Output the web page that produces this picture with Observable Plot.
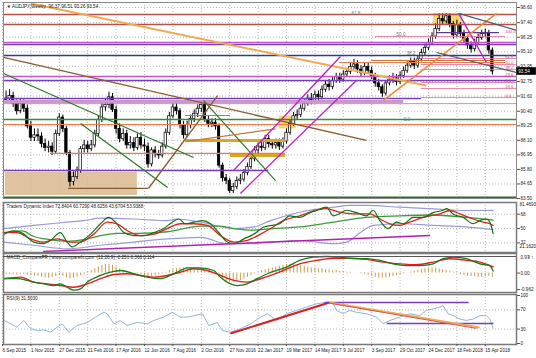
<!DOCTYPE html>
<html><head><meta charset="utf-8">
<script src="https://cdn.jsdelivr.net/npm/d3@7"></script>
<script src="https://cdn.jsdelivr.net/npm/@observablehq/plot@0.6"></script>
<style>
body{margin:0;background:#fff;}
#chart{position:relative;width:536px;height:358px;overflow:hidden;font-family:"Liberation Sans",Arial,sans-serif;background:#fff;}
#chart svg{position:absolute;left:0;}
</style></head><body><div id="chart"></div>
<script>
// ---------- DATA ----------
const title = "\u25BC AUDJPY,Weekly  96.37 96.51 93.26 93.54";
const tdiTitle = "Traders Dynamic Index 72.8404 60.7290 48.6256 43.6704 53.9388";
const macdTitle = "MACD_ComparePR | www.comparefx.com  (12,26,9) -0.251 0.366 0.114";
const rsiTitle = "RSI(9) 31.5030";
const tickLabels = ["6 Sep 2015","1 Nov 2015","27 Dec 2015","21 Feb 2016","17 Apr 2016","12 Jun 2016","7 Aug 2016","2 Oct 2016","27 Nov 2016","22 Jan 2017","19 Mar 2017","14 May 2017","9 Jul 2017","3 Sep 2017","29 Oct 2017","24 Dec 2017","18 Feb 2018","15 Apr 2018"];
const priceTicks = [98.60,97.40,96.25,95.10,93.95,92.75,91.60,90.40,89.25,88.10,86.95,85.80,84.65,83.50];
const tdiTicks = [68,50,32];
const tdiMax = 81.4693, tdiMin = 21.1620;
const macdTicks = [0,-0.962];
const macdMax = 0.97;
const rsiTicks = [100,70,30,0];

// weekly candles, week index 0 = 6 Sep 2015
const open = [91.0, 91.3,91.4,91.6,91.0,90.4,91.0,90.6,89.2,88.3,88.5, 88.4,87.8,87.5,87.6,87.2,88.6,89.9,89.0,87.1,84.8, 85.2,85.7,87.4,87.7,87.4,87.7,88.6,89.7,90.7,90.9, 91.5,90.5,89.0,88.2,88.6,87.7,87.9,87.5,88.3,87.7, 87.6,86.2,87.3,87.0,86.9,87.6,88.7,90.0,90.7,90.4, 89.3,88.5,89.3,89.8,90.2,90.6,90.9,89.7,89.4,89.5, 89.2,86.1,85.1,84.9,84.1,84.4,84.9,85.0,85.5,86.0, 86.6,87.3,87.6,87.5,88.2,87.8,87.7,87.9,87.6,88.0, 88.7,89.4,90.0,90.1,90.6,91.0,91.4,91.2,91.7,91.5, 92.1,92.5,92.3,92.8,93.1,92.9,93.3,93.5,93.9,94.1, 93.7,93.4,93.9,93.6,93.2,92.6,92.3,91.8,92.6,92.9, 93.0,92.7,93.2,93.6,94.0,94.3,94.0,94.5,95.0,95.4, 95.8,96.3,96.9,97.7,97.5,97.9,97.3,96.4,97.2,96.5, 96.1,95.6,95.3,95.8,96.2,96.5,96.6,95.2];
const high = [91.8, 92.0,92.1,91.9,91.3,91.4,91.3,90.9,89.6,89.0,89.0, 88.7,88.2,88.0,87.9,88.9,90.2,90.1,89.2,87.3,85.6, 86.0,87.6,88.1,88.0,88.1,88.9,90.0,91.0,91.4,91.9, 91.8,90.8,89.4,89.0,88.9,88.4,88.3,88.6,88.7,88.2, 87.9,87.5,87.6,87.3,87.9,89.0,90.3,91.0,91.2,90.6, 89.6,89.6,90.1,90.5,90.9,91.2,91.1,90.0,89.8,89.8, 89.4,86.3,85.4,85.1,84.7,85.2,85.4,85.8,86.3,86.9, 87.6,87.9,88.0,88.5,88.5,88.1,88.2,88.2,88.3,89.0, 89.7,90.3,90.5,90.9,91.3,91.7,91.8,92.0,92.0,92.4, 92.8,92.9,93.1,93.4,93.4,93.6,93.8,94.2,94.5,94.4, 94.0,94.2,94.2,93.9,93.4,92.9,92.5,92.8,93.2,93.4, 93.3,93.5,93.9,94.3,94.6,94.6,94.8,95.3,95.7,96.1, 96.6,97.3,98.1,98.1,98.1,98.1,97.5,97.6,97.4,96.8, 96.4,95.9,96.1,96.5,96.8,96.9,96.8,95.4];
const low = [90.8, 91.0,91.1,90.7,90.1,90.2,90.3,89.0,88.0,88.0,88.0, 87.5,87.2,87.1,86.9,87.0,88.4,88.7,86.9,84.4,84.5, 85.0,85.5,87.1,87.1,87.2,87.5,88.4,89.5,90.4,90.6, 90.3,88.6,87.9,88.0,87.4,87.4,87.2,87.3,87.4,87.2, 85.9,86.0,86.7,86.6,86.7,87.4,88.5,89.8,90.1,89.0, 88.2,88.3,89.0,89.5,89.9,90.3,89.5,89.1,89.1,88.9, 85.9,84.8,84.6,83.9,83.9,84.2,84.6,84.8,85.3,85.8, 86.4,87.0,87.2,87.3,87.5,87.4,87.4,87.3,87.4,87.8, 88.5,89.2,89.7,89.9,90.4,90.8,90.9,91.0,91.2,91.3, 91.9,92.0,92.1,92.6,92.6,92.7,93.1,93.3,93.7,93.4, 93.1,93.2,93.3,92.9,92.3,92.0,91.5,91.6,92.4,92.6, 92.4,92.5,93.0,93.4,93.8,93.7,93.8,94.3,94.8,95.2, 95.6,96.1,96.7,97.2,97.3,97.0,96.1,96.2,96.2,95.8, 95.3,95.0,95.1,95.6,96.0,96.2,94.9,93.26];
const close = [91.3, 91.4,91.6,91.0,90.4,91.0,90.6,89.2,88.3,88.5,88.4, 87.8,87.5,87.6,87.2,88.6,89.9,89.0,87.1,84.8,85.2, 85.7,87.4,87.7,87.4,87.7,88.6,89.7,90.7,90.9,91.5, 90.5,89.0,88.2,88.6,87.7,87.9,87.5,88.3,87.7,87.6, 86.2,87.3,87.0,86.9,87.6,88.7,90.0,90.7,90.4,89.3, 88.5,89.3,89.8,90.2,90.6,90.9,89.7,89.4,89.5,89.2, 86.1,85.1,84.9,84.1,84.4,84.9,85.0,85.5,86.0,86.6, 87.3,87.6,87.5,88.2,87.8,87.7,87.9,87.6,88.0,88.7, 89.4,90.0,90.1,90.6,91.0,91.4,91.2,91.7,91.5,92.1, 92.5,92.3,92.8,93.1,92.9,93.3,93.5,93.9,94.1,93.7, 93.4,93.9,93.6,93.2,92.6,92.3,91.8,92.6,92.9,93.0, 92.7,93.2,93.6,94.0,94.3,94.0,94.5,95.0,95.4,95.8, 96.3,96.9,97.7,97.5,97.9,97.3,96.4,97.2,96.5,96.1, 95.6,95.3,95.8,96.2,96.5,96.6,95.2,93.54];

// horizontal objects on the price chart: price level, week range, kind
const hLines = [
 {p:98.05,w1:-1,w2:146,k:"brick"},{p:97.26,w1:-1,w2:146,k:"brick"},
 {p:95.83,w1:-1,w2:146,k:"orchid"},{p:95.68,w1:-1,w2:146,k:"violet"},
 {p:94.81,w1:-1,w2:146,k:"navy"},
 {p:93.15,w1:-1,w2:146,k:"orchid"},{p:92.83,w1:-1,w2:146,k:"violet"},
 {p:91.41,w1:-1,w2:118,k:"violet"},{p:91.17,w1:-1,w2:113,k:"mauve"},{p:91.0,w1:-1,w2:146,k:"pinkthin"},
 {p:89.75,w1:-1,w2:146,k:"green"},{p:89.35,w1:-1,w2:146,k:"salmon"},
 {p:87.06,w1:13.5,w2:79.7,k:"salmon"},{p:85.71,w1:-1,w2:75,k:"violet"},
 {p:84.3,w1:18.6,w2:41.1,k:"brown"},{p:83.58,w1:-1,w2:146,k:"darkgreen"},
 {p:90.06,w1:51.5,w2:64.2,k:"rust"},{p:88.09,w1:51.5,w2:79.7,k:"gold"},{p:86.9,w1:64.2,w2:79.7,k:"gold"},
 {p:96.62,w1:122.3,w2:140,k:"plum"},{p:96.31,w1:105,w2:141.7,k:"pinkthin"},
 {p:94.41,w1:104,w2:141.7,k:"rust"},{p:94.25,w1:95,w2:141.7,k:"salmon"},
 {p:94.57,w1:118,w2:146,k:"pinkthin"},{p:94.09,w1:118,w2:146,k:"pinkthin"},{p:93.70,w1:118,w2:146,k:"pinkthin"},
 {p:92.67,w1:118,w2:146,k:"pinkthin"},{p:92.20,w1:118,w2:146,k:"pinkthin"},{p:91.49,w1:118,w2:146,k:"pinkthin"}
];
// trend lines on the price chart
const segs = [
 {w1:7.9,p1:98.92,w2:119.4,p2:92.43,k:"tan"},
 {w1:0.3,p1:94.65,w2:102.5,p2:88.09,k:"brown"},
 {w1:0.3,p1:93.38,w2:53.8,p2:86.74,k:"dgreen"},
 {w1:22,p1:89.43,w2:46.5,p2:84.37,k:"dgreen"},
 {w1:56.6,p1:91.25,w2:76.9,p2:84.92,k:"dgreen"},
 {w1:41.1,p1:84.29,w2:60.6,p2:91.64,k:"brown"},
 {w1:51.5,p1:88.0,w2:76.9,p2:89.0,k:"rust"},
 {w1:65.1,p1:85.71,w2:95.2,p2:94.73,k:"magenta"},
 {w1:67,p1:83.9,w2:99.7,p2:92.83,k:"magenta"},
 {w1:107.3,p1:91.25,w2:139.2,p2:98.13,k:"orange"},
 {w1:128.5,p1:98.13,w2:136.3,p2:94.25,k:"magenta"},
 {w1:128.5,p1:98.13,w2:144.8,p2:96.79,k:"slate"},
 {w1:122.3,p1:95.04,w2:144.8,p2:93.46,k:"slate"}
];
const boxes = [
 {w1:0.8,w2:38,p1:83.74,p2:85.56,k:"tanbox"},
 {w1:121.4,w2:129.6,p1:97.18,p2:98.13,k:"yellow"},
 {w1:78,w2:82.8,p1:89.0,p2:90.0,k:"yellow"}
];
const fibLabels = [{w:98.3,p:97.85,t:"61.8"},{w:111,p:96.2,t:"50.0"},{w:113.8,p:94.7,t:"38.2"},{w:113,p:89.5,t:"0.0"}];
const pinkLabels = [{p:96.54,t:"100.0"},{p:94.57,t:"61.8"},{p:94.09,t:"50.0"},{p:93.70,t:"38.2"},{p:93.15,t:"23.6"},{p:92.67,t:"0.0"},{p:92.20,t:"23.6"},{p:91.49,t:"0.0"}];

// Traders Dynamic Index  [week, value]
const tdiRsi = [[0.4,43],[3.2,47],[6,43],[8.8,33],[11.6,31],[13.5,35],[16.3,45],[18.2,33],[19.6,27],[22,33],[24.8,43],[27.6,56],[29.9,64],[31.8,58],[34.2,45],[37,41],[39.8,41],[42.6,45],[45.4,50],[47.8,58],[49.7,62],[51.5,56],[53.9,58],[56.3,60],[58.6,56],[60.9,45],[63.3,33],[65.2,31],[68,37],[70.8,43],[73.6,52],[78.1,56],[80.9,66],[83.7,64],[86.6,70],[88.5,73],[91.3,77],[93.2,66],[94.6,68],[96.9,73],[99.7,70],[102.5,66],[104.4,73],[106.3,60],[108.6,50],[111,58],[112.9,56],[115.7,64],[118.5,64],[121.3,70],[124.1,73],[125.1,75],[127,68],[129.8,64],[132.6,56],[134.5,60],[136.3,62],[137.3,58],[138.2,43.7]];
const tdiSig = [[0.4,45],[4.1,45],[7.9,37],[11.6,33],[15.4,37],[19.2,33],[22,33],[25.7,43],[29.5,58],[32.3,56],[35.1,47.5],[38.9,41],[42.6,43],[46.4,50],[50.1,56],[53.9,56],[57.7,54],[61.4,41],[65.2,33],[68.9,35],[72.7,43],[75.5,50],[79.1,60],[83.7,66],[88.5,73],[91.3,75],[95,70.5],[98.8,68.5],[103.5,68.5],[106.3,62],[109.1,56],[111.9,54],[114.7,58],[118.5,64],[123.2,68.5],[126,72.7],[128.8,68.5],[132.6,62],[135.4,58],[137.3,56],[138.2,53.9]];
const tdiBase = [[0.4,45],[5.6,47],[8.8,40],[13.5,36],[18.2,34],[22.9,36],[27.6,41],[32.3,44],[38,44],[46.4,46],[55.8,53],[61,53],[65.2,50],[70,48],[75.5,49.7],[83.7,52],[93.2,58],[102.5,64],[111.9,66],[121.3,67],[130.7,64],[138.2,60.7]];
const tdiUp = [[0.4,50],[8.8,54],[18.2,58],[22.9,60],[27.6,63],[37,62],[46.4,60],[49.2,62],[55.8,58],[65.2,50],[70.8,52],[75.5,60],[83.7,70.5],[93.2,76.8],[97.9,79],[102.5,79],[111.9,76.8],[121.3,74.8],[130.7,72.7],[138.2,72.84]];
const tdiLow = [[0.4,33],[8.8,29],[18.2,24.5],[27.6,29],[37,33],[46.4,37],[55.8,39],[63.3,31],[70,31],[75.5,33],[83.7,35],[93.2,31],[97,33],[100.8,45],[104.4,54],[111.9,56],[121.3,54],[130.7,52],[138.2,48.6]];
const tdiTrend = [[11.6,21.3],[120.3,41.3]];

// MACD
const macdMain = [[0.4,-0.33],[4.1,-0.33],[7,-0.43],[8.8,-0.53],[11.6,-0.63],[14.5,-0.73],[16.3,-0.63],[18.2,-0.83],[20.1,-1.0],[22,-0.92],[23.9,-0.53],[27.6,-0.14],[30.4,0.05],[33.2,0.15],[37,-0.04],[40.8,-0.24],[44.5,-0.33],[47.3,-0.14],[50.1,0.15],[52,0.3],[55.8,0.3],[59.5,0.15],[61.4,-0.24],[64.2,-0.63],[66.1,-0.73],[68.9,-0.63],[71.7,-0.33],[74.6,-0.04],[80,0.35],[83.7,0.74],[87.5,0.93],[91.3,0.97],[95,0.93],[98.8,0.84],[102.5,0.85],[106.3,0.74],[110,0.54],[113.8,0.44],[117.5,0.44],[121.3,0.54],[124.1,0.84],[127,0.93],[130.7,0.84],[134.5,0.54],[137.3,0.44],[138.2,0.114]];
const macdSig = [[0.4,-0.33],[5.1,-0.24],[8.8,-0.53],[12.6,-0.63],[16.3,-0.73],[20.1,-0.83],[23.9,-0.63],[27.6,-0.33],[31.4,-0.08],[35.1,-0.04],[38.9,-0.14],[42.6,-0.24],[46.4,-0.14],[50.1,0.05],[53.9,0.25],[57.7,0.15],[61.4,-0.14],[65.2,-0.43],[68.9,-0.53],[72.7,-0.33],[75.5,-0.14],[79.1,0.15],[83.7,0.54],[88.5,0.74],[93.2,0.87],[97.8,0.87],[102.5,0.80],[107.2,0.64],[111.9,0.54],[116.6,0.49],[121.3,0.64],[126,0.84],[130.7,0.74],[134.5,0.64],[137.3,0.44],[138.2,0.366]];
const macdHist = [-0.05,-0.08,-0.1,-0.1,-0.12,-0.1,-0.08,-0.12,-0.15,-0.18,-0.2, -0.25,-0.28,-0.3,-0.25,-0.2,-0.15,-0.2,-0.3,-0.35,-0.3, -0.25,-0.15,-0.1,0.05,0.15,0.25,0.35,0.45,0.5,0.5, 0.45,0.35,0.25,0.15,0.1,0.05,0,-0.05,-0.1,-0.15, -0.2,-0.2,-0.15,-0.1,-0.05,0.05,0.15,0.2,0.25,0.3, 0.3,0.3,0.3,0.3,0.25,0.2,0.1,0.05,0,-0.1, -0.25,-0.4,-0.5,-0.55,-0.55,-0.5,-0.45,-0.35,-0.25,-0.15, -0.05,0.05,0.15,0.2,0.25,0.3,0.35,0.4,0.45,0.5, 0.5,0.5,0.45,0.45,0.4,0.35,0.3,0.3,0.25,0.25, 0.2,0.2,0.15,0.15,0.1,0.1,0.05,0.05,0,0, -0.05,-0.1,-0.15,-0.2,-0.25,-0.3,-0.3,-0.3,-0.25,-0.2, -0.15,-0.1,-0.05,0,0.05,0.1,0.15,0.2,0.25,0.3, 0.3,0.3,0.25,0.2,0.15,0.1,0.05,-0.05,-0.1,-0.15, -0.2,-0.2,-0.2,-0.25,-0.25,-0.2,-0.2,-0.251];

// RSI(9)
const rsi = [[0.4,48],[2.3,41],[4.1,34],[6,48],[7.9,31],[9.8,27],[11.6,28.5],[13.5,23.5],[15.4,34],[16.8,41],[18.7,23.5],[21,37.5],[23.9,44],[26.2,55],[28.5,65],[29.5,62],[31.4,41],[33.2,48],[35.1,37.5],[37.9,44],[40.8,41],[42.6,48],[45.4,55],[47.8,65],[50.1,55],[52,55],[53.9,58],[56.3,62],[58.1,37.5],[60.5,44],[61.9,27],[64.2,23.5],[67,30.6],[69.9,41],[72.7,55],[74.6,62],[77.2,48],[80,62],[82.8,69],[85.6,76],[88.5,82.6],[91.3,86],[93.2,82.6],[94.1,69],[96,62],[97.8,69],[99.7,65],[102.5,62],[105.4,55],[107.2,41],[109.1,48],[111.9,55],[114.7,62],[117.5,58],[119.4,69],[121.3,72],[123.2,76],[124.1,79],[125.5,62],[127,58],[128.8,51],[130.7,48],[132.6,51],[134.5,58],[136.3,58],[137.3,51],[138.2,31.5]];
const rsiSegs = [
 {w1:64.2,p1:20.8,w2:92.1,p2:85.4,k:"red"},
 {w1:90.7,p1:85.4,w2:131.3,p2:85.4,k:"violet"},
 {w1:108.2,p1:41.7,w2:138.3,p2:41.7,k:"violet"},
 {w1:92.1,p1:85.4,w2:134.4,p2:33.3,k:"tan"},
 {w1:92.1,p1:84,w2:133.5,p2:31.5,k:"redthin"}
];

// ---------- STYLE ----------
const style = {
 brick:{s:"#b5524a",w:1.4}, orchid:{s:"#c254c8",w:1.4}, violet:{s:"#7a3cc0",w:1.6}, navy:{s:"#2a3d8f",w:1.4},
 mauve:{s:"#c99ac9",w:3}, pinkthin:{s:"#e8769e",w:0.9}, green:{s:"#3a8a3a",w:1.5}, salmon:{s:"#ea7a50",w:1.2},
 brown:{s:"#8b5a2b",w:1.3}, darkgreen:{s:"#2f6b2f",w:2}, rust:{s:"#c8783a",w:1.2}, gold:{s:"#dba628",w:3},
 plum:{s:"#5a3a8a",w:1.3}, tan:{s:"#eeaa55",w:2}, dgreen:{s:"#2a7a2a",w:1.2}, magenta:{s:"#c020c0",w:1.3},
 orange:{s:"#f08a30",w:1.5}, slate:{s:"#4a5a6a",w:1.2}, red:{s:"#d42020",w:2}, redthin:{s:"#e05050",w:1},
 tanbox:{f:"#d9b88f"}, yellow:{f:"#f6cf55"}
};
const FONT = "Liberation Sans, Arial, sans-serif";
const FS = 4.6;
const XD = [0.2817, 144.79];
const tickWeeks = tickLabels.map((_, k) => k * 8);
const gridStyle = {stroke:"#9a9a9a", strokeOpacity:0.7, strokeDasharray:"1,2"};
const kinds = arr => [...new Set(arr.map(d => d.k))];
const axisOpts = {anchor:"right", tickSize:3, tickPadding:1, fontSize:FS, stroke:"#555"};

function panel(top, height, mt, mb, ydom, marks) {
  const svg = Plot.plot({
    width:536, height, marginLeft:3, marginRight:20, marginTop:mt, marginBottom:mb,
    x:{domain:XD, axis:null}, y:{domain:ydom, axis:null},
    style:{fontFamily:FONT, fontSize:FS + "px", background:"transparent", overflow:"visible", color:"#222"},
    marks
  });
  svg.style.top = top + "px";
  document.getElementById("chart").appendChild(svg);
}
const titleMark = t => Plot.text([t], {frameAnchor:"top-left", text:d => d, dx:3, dy:2, fontSize:FS, textAnchor:"start", lineAnchor:"top", fill:"#222"});

// ---------- MAIN PRICE PANEL ----------
const candles = close.map((c, i) => ({i, o:open[i], h:high[i], l:low[i], c}));
panel(0, 200, 2, 2, [83.5, 98.995], [
  Plot.gridX(tickWeeks, gridStyle),
  Plot.gridY(priceTicks, gridStyle),
  ...kinds(boxes).map(k => Plot.rect(boxes.filter(d => d.k === k), {x1:"w1", x2:"w2", y1:"p1", y2:"p2", fill:style[k].f, fillOpacity:0.85, clip:true})),
  Plot.ruleX(candles, {x:"i", y1:"l", y2:"h", stroke:"#000", strokeWidth:1, clip:true}),
  Plot.rect(candles, {x1:d => d.i - 0.34, x2:d => d.i + 0.34, y1:"o", y2:"c", fill:d => d.c >= d.o ? "#fff" : "#000", stroke:"#000", strokeWidth:0.7, clip:true}),
  ...kinds(hLines).map(k => Plot.ruleY(hLines.filter(d => d.k === k), {y:"p", x1:"w1", x2:"w2", stroke:style[k].s, strokeWidth:style[k].w, clip:true})),
  ...kinds(segs).map(k => Plot.link(segs.filter(d => d.k === k), {x1:"w1", y1:"p1", x2:"w2", y2:"p2", stroke:style[k].s, strokeWidth:style[k].w, clip:true})),
  Plot.text(fibLabels, {x:"w", y:"p", text:"t", fill:"#777", fontSize:FS, textAnchor:"start", dy:-3}),
  Plot.text(pinkLabels, {x:XD[1] - 3.2, y:"p", text:"t", fill:"#e0407a", fontSize:4.2, textAnchor:"start", dy:-2}),
  Plot.frame({stroke:"#8a8a8a"}),
  Plot.axisY(priceTicks, {...axisOpts, tickFormat:d => d.toFixed(2)}),
  Plot.rect([close[close.length - 1]], {x1:XD[1] + 0.1, x2:XD[1] + 5.6, y1:d => d - 0.3, y2:d => d + 0.3, fill:"#000"}),
  Plot.text([close[close.length - 1]], {x:XD[1] + 0.5, y:d => d, text:d => d.toFixed(2), fill:"#fff", fontSize:FS, textAnchor:"start"}),
  titleMark(title)
]);

// ---------- TDI PANEL ----------
const pt = {x:d => d[0], y:d => d[1]};
panel(200, 53, 2, 1, [19.905, 82.726], [
  Plot.gridX(tickWeeks, gridStyle),
  Plot.gridY(tdiTicks, gridStyle),
  Plot.line(tdiUp, {...pt, stroke:"#9a9ad6", strokeWidth:1.2, curve:"monotone-x"}),
  Plot.line(tdiLow, {...pt, stroke:"#9a9ad6", strokeWidth:1.2, curve:"monotone-x"}),
  Plot.line(tdiBase, {...pt, stroke:"#3c9a3c", strokeWidth:1.3, curve:"monotone-x"}),
  Plot.line(tdiSig, {...pt, stroke:"#e02020", strokeWidth:1.3, curve:"monotone-x"}),
  Plot.line(tdiRsi, {...pt, stroke:"#157015", strokeWidth:1.2, curve:"monotone-x"}),
  Plot.line(tdiTrend, {...pt, stroke:"#b020b0", strokeWidth:1.5, clip:true}),
  Plot.frame({stroke:"#7a7a7a", strokeWidth:1.5}),
  Plot.axisY(tdiTicks, axisOpts),
  Plot.text([tdiMax], {x:XD[1], y:d => d, text:d => d.toFixed(4), fontSize:FS, textAnchor:"start", dx:3, dy:1, fill:"#222"}),
  Plot.text([tdiMin], {x:XD[1], y:d => d, text:d => d.toFixed(4), fontSize:FS, textAnchor:"start", dx:3, dy:-5, fill:"#222"}),
  titleMark(tdiTitle)
]);

// ---------- MACD PANEL ----------
const hist = macdHist.map((v, i) => ({i, v}));
panel(252, 41, 1, 1, [-1.1376, 1.1456], [
  Plot.gridX(tickWeeks, gridStyle),
  Plot.ruleX(hist, {x:"i", y1:0, y2:"v", stroke:"#cf9a48", strokeWidth:1}),
  Plot.line(macdSig, {...pt, stroke:"#e02020", strokeWidth:1.4, curve:"monotone-x"}),
  Plot.line(macdMain, {...pt, stroke:"#1a7a1a", strokeWidth:1.3, curve:"monotone-x"}),
  Plot.frame({stroke:"#7a7a7a", strokeWidth:1.5}),
  Plot.axisY(macdTicks, {...axisOpts, tickFormat:d => d === 0 ? "0.00" : String(d)}),
  Plot.tickY([macdMax], {x1:XD[1], x2:XD[1] + 0.85, y:d => d, stroke:"#555", clip:false}),
  Plot.text([macdMax], {x:XD[1], y:d => d, text:d => d.toFixed(2), fontSize:FS, textAnchor:"start", dx:4, dy:1.5, fill:"#222"}),
  titleMark(macdTitle)
]);

// ---------- RSI PANEL ----------
panel(293, 65, 1, 14, [-2.08, 102.08], [
  Plot.gridX(tickWeeks, gridStyle),
  Plot.gridY([70,30], gridStyle),
  Plot.line(rsi, {...pt, stroke:"#8fb6d8", strokeWidth:1}),
  ...kinds(rsiSegs).map(k => Plot.link(rsiSegs.filter(d => d.k === k), {x1:"w1", y1:"p1", x2:"w2", y2:"p2", stroke:style[k].s, strokeWidth:style[k].w})),
  Plot.frame({stroke:"#7a7a7a", strokeWidth:1.5}),
  Plot.axisY(rsiTicks, axisOpts),
  Plot.axisX(tickWeeks, {anchor:"bottom", tickFormat:d => tickLabels[Math.round(d / 8)], tickSize:2, tickPadding:2, textAnchor:"start", fontSize:FS, stroke:"#555"}),
  titleMark(rsiTitle)
]);
</script></body></html>
